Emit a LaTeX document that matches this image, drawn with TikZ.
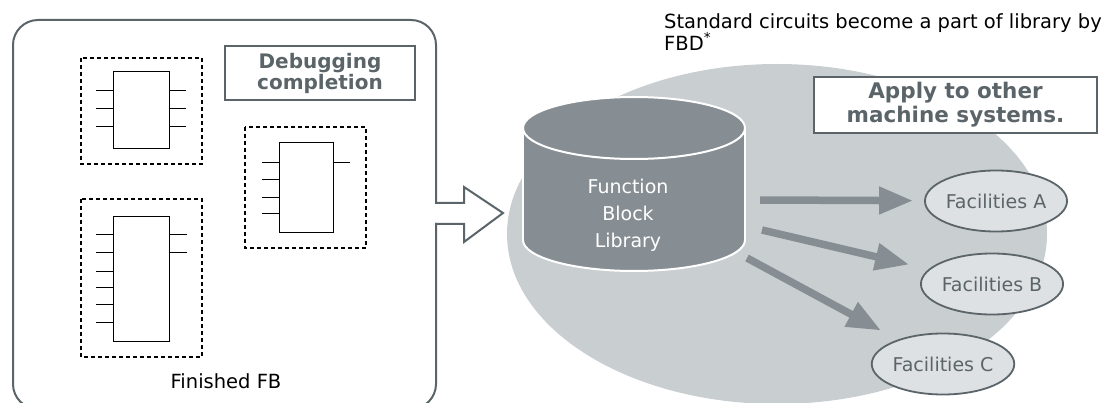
\documentclass[tikz,border=0pt]{standalone}
\usepackage{fontspec}
\setmainfont{DejaVu Sans}
\usetikzlibrary{arrows.meta,shapes.geometric}
\definecolor{darkgrey}{HTML}{5B6569}
\definecolor{cylgrey}{HTML}{878E93}
\definecolor{bggrey}{HTML}{C9CED1}
\definecolor{facgrey}{HTML}{DEE1E4}
\tikzset{
	fbbox/.style={draw=black, line width=1pt},
	fbgroup/.style={draw=black, line width=1.3pt, dash pattern=on 4pt off 3pt},
	fbpin/.style={draw=black, line width=1pt},
	outline/.style={draw=darkgrey, line width=2pt, line cap=rect},
	notebox/.style={draw=darkgrey, fill=white, line width=1.5pt, text=darkgrey, align=center, inner sep=0pt},
	facility/.style={ellipse, draw=darkgrey, fill=facgrey, line width=1.8pt, text=darkgrey, minimum width=142pt, minimum height=61pt, inner sep=0pt, font=\fontsize{19}{22}\selectfont},
	flow/.style={cylgrey, line width=7.5pt, -{Triangle[length=34pt,width=26pt]}},
	cylside/.style={draw=white, line width=2pt},
}
\begin{document}
\begin{tikzpicture}[x=1pt, y=-1pt]
		\useasboundingbox (0,0) rectangle (1110,403);

		% finished blocks
		\draw[outline, rounded corners=25pt] (436,224) -- (436,409) -- (13,409) -- (13,20) -- (436,20) -- (436,203);
		\draw[outline, line join=miter] (436,203) -- (464,203) -- (464,187) -- (503,213) -- (464,242) -- (464,224) -- (436,224);

		\draw[fbgroup] (81,58) rectangle (202,164);
		\draw[fbbox] (113,72) rectangle (169,149);
		\foreach \y in {91,109,127} {
			\draw[fbpin] (96,\y) -- (113,\y);
			\draw[fbpin] (169,\y) -- (186,\y);
		}

		\draw[fbgroup] (81,199) rectangle (202,357);
		\draw[fbbox] (113,217) rectangle (169,341);
		\foreach \y in {235,253,271,287,304,322}
			\draw[fbpin] (96,\y) -- (113,\y);
		\foreach \y in {235,253}
			\draw[fbpin] (169,\y) -- (187,\y);

		\draw[fbgroup] (245,127) rectangle (366,248);
		\draw[fbbox] (279,143) rectangle (333,233);
		\foreach \y in {163,180,198,214}
			\draw[fbpin] (262,\y) -- (279,\y);
		\draw[fbpin] (333,163) -- (350,163);

		\node[notebox, minimum width=190pt, minimum height=54pt, font=\fontsize{20}{21}\selectfont\bfseries] (debug) at (320,73) {Debugging\\completion};
		\node[anchor=base, inner sep=0pt, font=\fontsize{19.5}{22}\selectfont] (finished) at (226,388) {Finished FB};

		% library
		\node[anchor=north west, inner sep=0pt, align=left, font=\fontsize{19.5}{22}\selectfont] (title) at (664,13) {Standard circuits become a part of library by\\FBD\textsuperscript{*}};
		\fill[bggrey] (777,234) ellipse [x radius=270, y radius=170];

		\draw[cylside, fill=cylgrey] (634,240) ellipse [x radius=111, y radius=31];
		\fill[cylgrey] (523,128) rectangle (745,240);
		\draw[cylside] (523,128) -- (523,240) (745,128) -- (745,240);
		\draw[cylside, fill=cylgrey] (634,128) ellipse [x radius=111, y radius=31];
		\node[text=white, align=center, font=\fontsize{19}{27}\selectfont] (lib) at (628,215) {Function\\Block\\Library};

		\node[notebox, minimum width=283pt, minimum height=56pt, font=\fontsize{21.5}{24}\selectfont\bfseries] (apply) at (955.5,105) {Apply to other\\machine systems.};

		\node[facility] (facA) at (996,201) {Facilities A};
		\node[facility] (facB) at (992,284) {Facilities B};
		\node[facility] (facC) at (943,364) {Facilities C};

		\coordinate (outA) at (760,200);
		\coordinate (outB) at (762,230);
		\coordinate (outC) at (747,258);
		\draw[flow, shorten >=11pt] (outA) -- (facA);
		\draw[flow, shorten >=20pt] (outB) -- (facB);
		\draw[flow, shorten >=19pt] (outC) -- (facC);
	\end{tikzpicture}
\end{document}
